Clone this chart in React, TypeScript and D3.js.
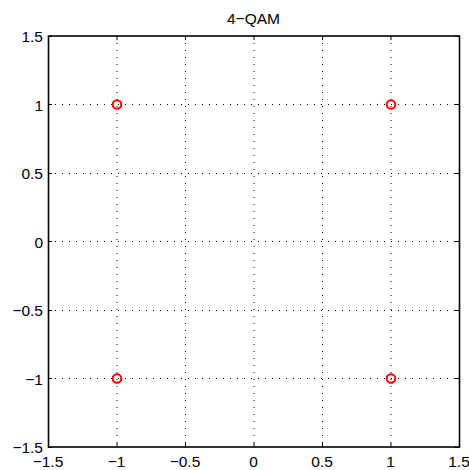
import React from "react";
import * as d3 from "d3";

const title = "4\u2212QAM";
const xTicks = [-1.5, -1, -0.5, 0, 0.5, 1, 1.5];
const yTicks = [-1.5, -1, -0.5, 0, 0.5, 1, 1.5];
const pointsI = [1, -1, 1, -1];
const pointsQ = [1, 1, -1, -1];

const W = 469, H = 470;
const L = 48, R = 459, T = 36, B = 447;

const fmt = (v: number) => {
  const s = String(Math.abs(v));
  return v < 0 ? "\u2212" + s : s;
};

export default function App() {
  const x = d3.scaleLinear().domain([-1.5, 1.5]).range([L, R]);
  const y = d3.scaleLinear().domain([-1.5, 1.5]).range([B, T]);
  const tl = 4;
  const font = "'Liberation Sans', Arial, sans-serif";
  const fs = 15.5;
  return (
    <svg width={W} height={H} style={{ position: "absolute", left: 0, top: 0 }}>
      <rect x={0} y={0} width={W} height={H} fill="#fff" />
      {xTicks.slice(1, -1).map((t) => (
        <line key={"gx" + t} x1={x(t) + 0.5} x2={x(t) + 0.5} y1={T} y2={B} stroke="#000" strokeWidth={1} strokeDasharray="1,6" />
      ))}
      {yTicks.slice(1, -1).map((t) => (
        <line key={"gy" + t} x1={L} x2={R} y1={y(t)} y2={y(t)} stroke="#000" strokeWidth={1} strokeDasharray="1,6" shapeRendering="crispEdges" />
      ))}
      {xTicks.map((t) => (
        <g key={"tx" + t}>
          <line x1={x(t) + 0.5} x2={x(t) + 0.5} y1={B} y2={B - tl} stroke="#000" />
          <line x1={x(t) + 0.5} x2={x(t) + 0.5} y1={T} y2={T + tl} stroke="#000" />
          <text x={x(t)} y={B + 20} textAnchor="middle" fontFamily={font} fontSize={fs}>{fmt(t)}</text>
        </g>
      ))}
      {yTicks.map((t) => (
        <g key={"ty" + t}>
          <line x1={L} x2={L + tl} y1={y(t)} y2={y(t)} stroke="#000" shapeRendering="crispEdges" />
          <line x1={R} x2={R - tl} y1={y(t)} y2={y(t)} stroke="#000" shapeRendering="crispEdges" />
          <text x={L - 5} y={y(t) + 6} textAnchor="end" fontFamily={font} fontSize={fs}>{fmt(t)}</text>
        </g>
      ))}
      <rect x={L + 0.5} y={T} width={R - L} height={B - T} fill="none" stroke="#000" strokeWidth={1.6} />
      {pointsI.map((v, i) => (
        <circle key={"p" + i} cx={x(v) + 0.5} cy={y(pointsQ[i])} r={4.3} fill="none" stroke="#ff0000" strokeWidth={2} />
      ))}
      <text x={(L + R) / 2} y={24} textAnchor="middle" fontFamily={font} fontSize={fs}>{title}</text>
    </svg>
  );
}
